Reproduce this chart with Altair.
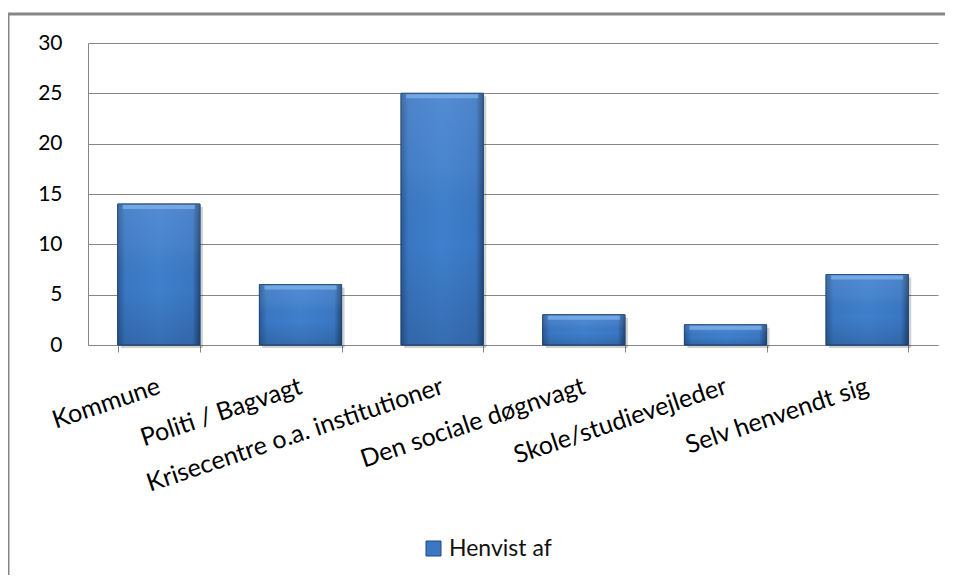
import altair as alt
import pandas as pd

categories = ["Kommune", "Politi / Bagvagt", "Krisecentre o.a. institutioner",
              "Den sociale døgnvagt", "Skole/studievejleder", "Selv henvendt sig"]
values = [14, 6, 25, 3, 2, 7]
series_name = "Henvist af"
y_ticks = [0, 5, 10, 15, 20, 25, 30]

df = pd.DataFrame({"kategori": categories, "antal": values,
                   "serie": [series_name] * len(categories)})

GRID = "#868686"
FONT = "Lato"

x_enc = alt.X("kategori:N", sort=categories,
              scale=alt.Scale(paddingInner=0.42, paddingOuter=0.21),
              axis=alt.Axis(title=None, labelAngle=-18.5, labelAlign="right",
                            labelBaseline="middle", labelFont=FONT, labelFontSize=25,
                            labelColor="#000000", labelPadding=33, labelLimit=0,
                            tickBand="extent", tickSize=7, tickColor=GRID,
                            domainColor=GRID, grid=False))
y_enc = alt.Y("antal:Q", scale=alt.Scale(domain=[0, 30], nice=False),
              axis=alt.Axis(title=None, values=y_ticks, ticks=False, labelPadding=26,
                            labelFont=FONT, labelFontSize=21, labelColor="#000000",
                            grid=True, gridColor=GRID, domainColor=GRID))

base = alt.Chart(df)

shadow = base.mark_bar(color="#000000", opacity=0.18, xOffset=3, yOffset=3).encode(
    x=x_enc, y=y_enc)

legend_layer = base.mark_bar(stroke="#22497a", strokeWidth=1).encode(
    x=x_enc, y=y_enc,
    color=alt.Color("serie:N", scale=alt.Scale(range=["#3a78c4"]),
                    legend=alt.Legend(title=None, orient="none", legendX=334, legendY=494,
                                      direction="horizontal", symbolType="square",
                                      symbolSize=225, symbolStrokeColor="#22497a",
                                      symbolStrokeWidth=1, symbolOpacity=1,
                                      labelFont=FONT, labelFontSize=23,
                                      labelColor="#111111", labelOffset=4, padding=0)))

h_grad = alt.Gradient(gradient="linear", x1=0, y1=0, x2=1, y2=0, stops=[
    alt.GradientStop(color="#2a5a96", offset=0),
    alt.GradientStop(color="#3a77c3", offset=0.09),
    alt.GradientStop(color="#3f7fcd", offset=0.5),
    alt.GradientStop(color="#3a77c3", offset=0.91),
    alt.GradientStop(color="#22497a", offset=1),
])
bars = base.mark_bar(color=h_grad, stroke="#22497a", strokeWidth=1).encode(x=x_enc, y=y_enc)

v_grad = alt.Gradient(gradient="linear", x1=0, y1=0, x2=0, y2=1, stops=[
    alt.GradientStop(color="rgba(255,255,255,0.10)", offset=0),
    alt.GradientStop(color="rgba(255,255,255,0.05)", offset=0.3),
    alt.GradientStop(color="rgba(0,0,0,0.0)", offset=0.6),
    alt.GradientStop(color="rgba(0,0,0,0.14)", offset=1),
])
overlay = base.mark_bar(color=v_grad).encode(x=x_enc, y=y_enc)

highlight = base.mark_tick(color="#79ade9", thickness=4, size=72, yOffset=3,
                           opacity=0.85).encode(x=x_enc, y=y_enc)

frame = alt.Chart(alt.Data(values=[{}])).mark_rect(
    filled=False, stroke=GRID, strokeWidth=3).encode(
    x=alt.value(-80), x2=alt.value(900), y=alt.value(-29), y2=alt.value(700))

chart = alt.layer(frame, shadow, legend_layer, bars, overlay, highlight).properties(
    width=850, height=302,
    autosize=alt.AutoSizeParams(type="none"),
    padding={"left": 80, "top": 35, "right": 7, "bottom": 230},
    background="white",
).configure_view(stroke=None)

chart.save("out.html", embed_options={"renderer": "svg", "actions": False})
